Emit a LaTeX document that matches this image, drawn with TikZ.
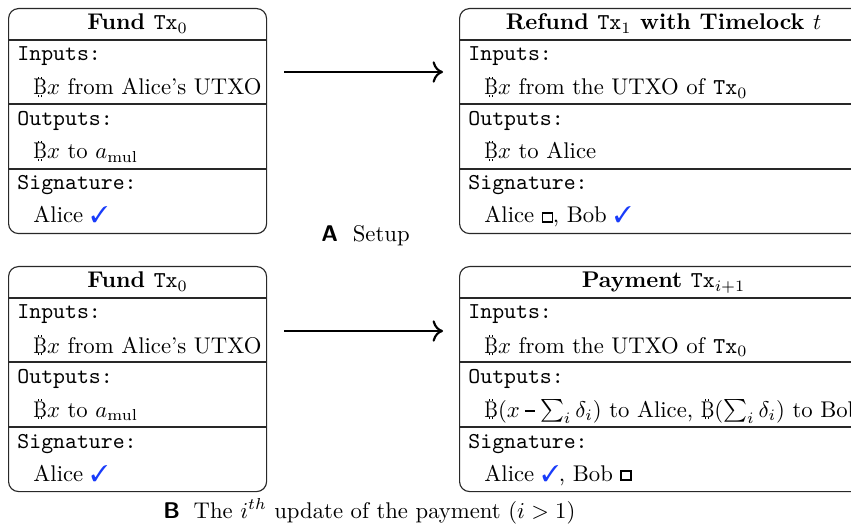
\documentclass[tikz,border=0pt]{standalone}
\usepackage{amsmath,amssymb}
\usepackage{graphicx}
\usepackage{pifont}
\usetikzlibrary{arrows.meta,calc}

\definecolor{okblue}{RGB}{25,60,250}
\definecolor{rulegray}{RGB}{40,40,40}

% drawing unit used for all positions
\newcommand\pxu{0.4405pt}

% Bitcoin sign: a narrow B with short strokes at top and bottom
\newcommand\btc{\leavevmode
  \rlap{\hspace{0.2em}\rule[-0.09em]{0.035em}{0.09em}}%
  \rlap{\hspace{0.33em}\rule[-0.09em]{0.035em}{0.09em}}%
  \rlap{\hspace{0.2em}\rule[0.683em]{0.035em}{0.09em}}%
  \rlap{\hspace{0.33em}\rule[0.683em]{0.035em}{0.09em}}%
  \scalebox{0.85}[1]{B}}
\newcommand\signed{\textcolor{okblue}{\ding{51}}}
\newcommand\pending{\raisebox{0.7pt}{\fboxsep=0pt\fboxrule=0.55pt\fbox{\rule{0pt}{3.4pt}\hspace{3.8pt}}}}
\newcommand\txid[1]{{\mdseries\texttt{Tx}}$_{#1}$}
% short, heavy minus for the payment amounts
\newcommand\shortminus{\mathbin{\rule[2.1pt]{4.4pt}{0.8pt}}}

% one transaction card: name, top-left corner, width, title, input, output, signatures
\newcommand\txcard[7]{%
  \node[txbox, minimum width=#3*\pxu] (#1) at #2 {};
  \draw[sep] ($(#1.north west)+(0,32)$) -- ($(#1.north east)+(0,32)$);
  \draw[sep] ($(#1.north west)+(0,96)$) -- ($(#1.north east)+(0,96)$);
  \draw[sep] ($(#1.north west)+(0,161)$) -- ($(#1.north east)+(0,161)$);
  \node[cardtitle] (#1-title) at ($(#1.north)+(0,22)$) {#4};
  \node[field] (#1-inl) at ($(#1.north west)+(9,53)$) {Inputs:};
  \node[entry] (#1-in) at ($(#1.north west)+(25,87)$) {#5};
  \node[field] (#1-outl) at ($(#1.north west)+(9,118)$) {Outputs:};
  \node[entry] (#1-out) at ($(#1.north west)+(25,151)$) {#6};
  \node[field] (#1-sigl) at ($(#1.north west)+(9,182)$) {Signature:};
  \node[entry] (#1-sig) at ($(#1.north west)+(25,215)$) {#7};
}

\begin{document}
\begin{tikzpicture}[
  x=\pxu, y=-\pxu,
  txbox/.style={draw=rulegray, line width=0.5pt, rounded corners=4.4pt, inner sep=0pt,
    anchor=north west, minimum height=225*\pxu},
  sep/.style={draw=rulegray, line width=0.5pt},
  cardtitle/.style={anchor=base, inner sep=0pt, font=\bfseries},
  field/.style={anchor=base west, inner sep=0pt, font=\ttfamily},
  entry/.style={anchor=base west, inner sep=0pt},
  caption/.style={anchor=base west, inner sep=0pt},
  flow/.style={line width=0.95pt, -{To[length=4.6pt,width=9.4pt]}}
]
\useasboundingbox (0,0) rectangle (851,525);
\clip (0,0) rectangle (851,525);

% A: setup
\txcard{fundA}{(8,8)}{258}{Fund \txid{0}}
  {\btc$x$ from Alice's UTXO}{\btc$x$ to $a_{\mathrm{mul}}$}{Alice \signed}
\txcard{refund}{(459,8)}{408}{Refund \txid{1} with Timelock $t$}
  {\btc$x$ from the UTXO of \texttt{Tx}$_0$}{\btc$x$ to Alice}{Alice \pending, Bob \signed}
\draw[flow] ($(fundA.north east)+(17,64)$) -- ($(refund.north west)+(-16,64)$);
\node[caption] (capA) at (321,242) {\textsf{\bfseries A}\hspace{0.65em}Setup};

% B: i-th payment update
\txcard{fundB}{(8,266)}{258}{Fund \txid{0}}
  {\btc$x$ from Alice's UTXO}{\btc$x$ to $a_{\mathrm{mul}}$}{Alice \signed}
\txcard{payment}{(459,266)}{408}{Payment \txid{i+1}}
  {\btc$x$ from the UTXO of \texttt{Tx}$_0$}
  {\smash{\btc$(x \shortminus \sum_i \delta_i)$ to Alice, \btc$(\sum_i \delta_i)$ to Bob}}
  {Alice \signed, Bob \pending}
\draw[flow] ($(fundB.north east)+(17,65)$) -- ($(payment.north west)+(-16,65)$);
\node[caption] (capB) at (163,518) {\textsf{\bfseries B}\hspace{0.6em}The $i^{th}$ update of the payment $(i > 1)$};
\end{tikzpicture}
\end{document}
